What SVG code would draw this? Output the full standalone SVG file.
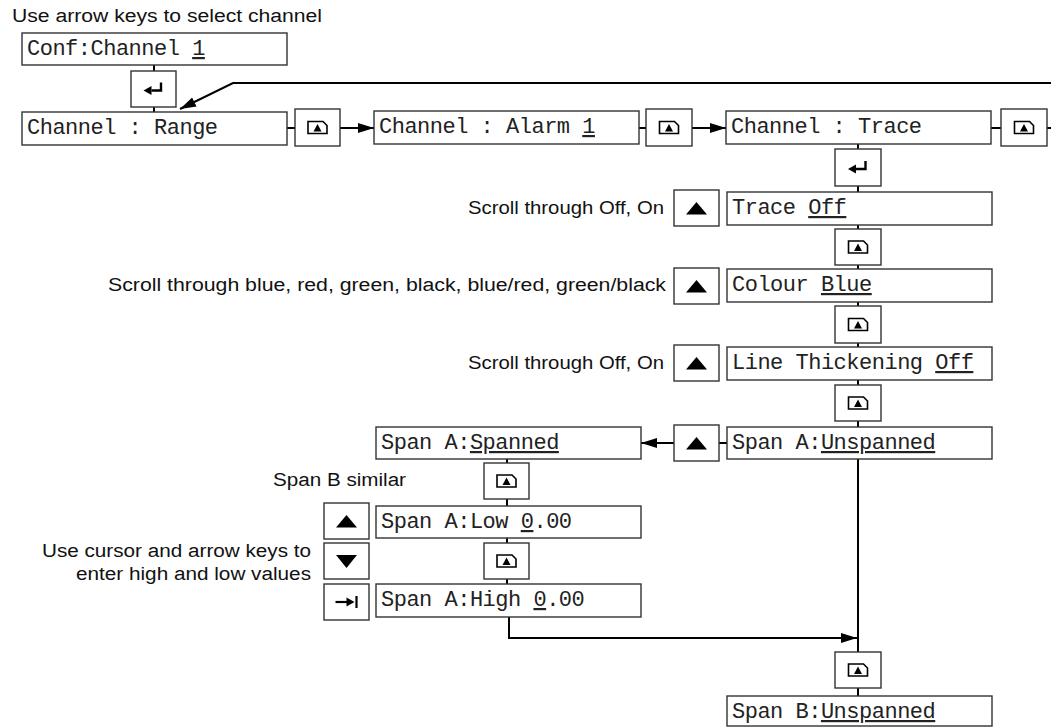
<svg xmlns="http://www.w3.org/2000/svg" xmlns:xlink="http://www.w3.org/1999/xlink" width="1051" height="727" viewBox="0 0 1051 727">
<style>
.box{fill:#fff;stroke:#333;stroke-width:1.4}
.key{fill:#fff;stroke:#333;stroke-width:1.4}
.mono{font-family:"Liberation Mono","Courier New",monospace;font-size:22px;letter-spacing:-0.5px;fill:#222}
.sans{font-family:"Liberation Sans",Arial,sans-serif;font-size:18px;fill:#111}
.u{text-decoration:underline}
.con{fill:none;stroke:#000;stroke-width:2}
</style>
<defs>
<marker id="ah" markerUnits="userSpaceOnUse" markerWidth="18" markerHeight="12" refX="16" refY="6" orient="auto">
<path d="M0,1 L16,6 L0,11 z" fill="#000"/>
</marker>
<g id="pg">
<path d="M-9.5,-6 H5.5 L9.5,-2 V6 H-9.5 Z" fill="#fff" stroke="#000" stroke-width="1.6"/>
<path d="M-4,4 L4,4 L0,-3.5 Z" fill="#000"/>
</g>
<g id="ent">
<path d="M-2,1.5 H7.5 V-6.5" fill="none" stroke="#000" stroke-width="2.4"/>
<path d="M-10,1.5 L-2,-3 L-2,6 Z" fill="#000"/>
</g>
<path id="up" d="M0,-6 L10.5,6.5 L-10.5,6.5 Z" fill="#000"/>
<path id="dn" d="M0,7 L10.5,-6 L-10.5,-6 Z" fill="#000"/>
<g id="tab">
<path d="M-11,0 H2" stroke="#000" stroke-width="2.2"/>
<path d="M8,0 L0,-4.5 L0,4.5 Z" fill="#000"/>
<path d="M10,-6 V6" stroke="#000" stroke-width="2.2"/>
</g>
</defs>

<g id="connectors">
<path class="con" d="M154,65 V71 M154,107 V112"/>
<path class="con" d="M287,128 H295"/>
<path class="con" d="M340,128 H374" marker-end="url(#ah)"/>
<path class="con" d="M639,128 H646"/>
<path class="con" d="M692,128 H726" marker-end="url(#ah)"/>
<path class="con" d="M991,128 H1001"/>
<path class="con" d="M1047,128 H1051"/>
<path class="con" d="M1051,83 H233 L180,109" marker-end="url(#ah)"/>
<path class="con" d="M858,144 V149 M858,186 V192 M858,225 V229 M858,265 V269 M858,302 V306 M858,343 V347 M858,380 V385 M858,421 V427"/>
<path class="con" d="M858,459 V652 M858,688 V696"/>
<path class="con" d="M719,443 H727"/>
<path class="con" d="M674,443 H641" marker-end="url(#ah)"/>
<path class="con" d="M507,459 V463 M507,499 V506 M507,538 V543 M507,579 V584"/>
<path class="con" d="M509,617 V638 H857" marker-end="url(#ah)"/>
</g>

<text class="sans" x="12" y="22" textLength="310" lengthAdjust="spacingAndGlyphs">Use arrow keys to select channel</text>

<g id="conf"><rect class="box" x="22" y="33" width="265" height="32"/><text class="mono" x="27" y="55">Conf:Channel <tspan class="u">1</tspan></text></g>
<g id="enterA"><rect class="key" x="131" y="71" width="45" height="36"/><use xlink:href="#ent" x="153.5" y="89"/></g>
<g id="range"><rect class="box" x="22" y="112" width="265" height="33"/><text class="mono" x="27" y="134">Channel : Range</text></g>
<g id="pgA"><rect class="key" x="295" y="109" width="45" height="37"/><use xlink:href="#pg" x="317.5" y="127.5"/></g>
<g id="alarm"><rect class="box" x="374" y="111" width="265" height="33"/><text class="mono" x="379" y="133">Channel : Alarm <tspan class="u">1</tspan></text></g>
<g id="pgB"><rect class="key" x="646" y="109" width="46" height="37"/><use xlink:href="#pg" x="669" y="127.5"/></g>
<g id="trace"><rect class="box" x="726" y="111" width="265" height="33"/><text class="mono" x="731" y="133">Channel : Trace</text></g>
<g id="pgC"><rect class="key" x="1001" y="109" width="46" height="37"/><use xlink:href="#pg" x="1024" y="127.5"/></g>
<g id="enterB"><rect class="key" x="835" y="149" width="46" height="37"/><use xlink:href="#ent" x="858" y="167.5"/></g>

<g id="traceOff"><rect class="box" x="727" y="192" width="265" height="33"/><text class="mono" x="732" y="214">Trace <tspan class="u">Off</tspan></text></g>
<g id="upA"><rect class="key" x="674" y="190" width="45" height="36"/><use xlink:href="#up" x="696.5" y="208"/></g>
<text class="sans" x="664" y="214" text-anchor="end" textLength="196" lengthAdjust="spacingAndGlyphs">Scroll through Off, On</text>
<g id="pgD"><rect class="key" x="835" y="229" width="46" height="36"/><use xlink:href="#pg" x="858" y="247"/></g>

<g id="colour"><rect class="box" x="727" y="269" width="265" height="33"/><text class="mono" x="732" y="291">Colour <tspan class="u">Blue</tspan></text></g>
<g id="upB"><rect class="key" x="674" y="268" width="45" height="36"/><use xlink:href="#up" x="696.5" y="286"/></g>
<text class="sans" x="666" y="291" text-anchor="end" textLength="558" lengthAdjust="spacingAndGlyphs">Scroll through blue, red, green, black, blue/red, green/black</text>
<g id="pgE"><rect class="key" x="835" y="306" width="46" height="37"/><use xlink:href="#pg" x="858" y="324.5"/></g>

<g id="lineTh"><rect class="box" x="727" y="347" width="265" height="33"/><text class="mono" x="732" y="369">Line Thickening <tspan class="u">Off</tspan></text></g>
<g id="upC"><rect class="key" x="674" y="345" width="45" height="36"/><use xlink:href="#up" x="696.5" y="363"/></g>
<text class="sans" x="664" y="369" text-anchor="end" textLength="196" lengthAdjust="spacingAndGlyphs">Scroll through Off, On</text>
<g id="pgF"><rect class="key" x="835" y="385" width="46" height="36"/><use xlink:href="#pg" x="858" y="403"/></g>

<g id="spanAU"><rect class="box" x="727" y="427" width="265" height="32"/><text class="mono" x="732" y="449">Span A:<tspan class="u">Unspanned</tspan></text></g>
<g id="upD"><rect class="key" x="674" y="425" width="45" height="36"/><use xlink:href="#up" x="696.5" y="443"/></g>
<g id="spanAS"><rect class="box" x="376" y="427" width="265" height="32"/><text class="mono" x="381" y="449">Span A:<tspan class="u">Spanned</tspan></text></g>
<g id="pgG"><rect class="key" x="484" y="463" width="45" height="36"/><use xlink:href="#pg" x="506.5" y="481"/></g>
<text class="sans" x="273" y="486" textLength="133" lengthAdjust="spacingAndGlyphs">Span B similar</text>

<g id="low"><rect class="box" x="376" y="506" width="265" height="32"/><text class="mono" x="381" y="528">Span A:Low <tspan class="u">0</tspan>.00</text></g>
<g id="upE"><rect class="key" x="324" y="503" width="45" height="36"/><use xlink:href="#up" x="346.5" y="521"/></g>
<g id="pgH"><rect class="key" x="484" y="543" width="45" height="36"/><use xlink:href="#pg" x="506.5" y="561"/></g>
<g id="downE"><rect class="key" x="324" y="543" width="45" height="36"/><use xlink:href="#dn" x="346.5" y="561"/></g>
<text class="sans" x="311" y="557" text-anchor="end" textLength="269" lengthAdjust="spacingAndGlyphs">Use cursor and arrow keys to</text>
<text class="sans" x="311" y="580" text-anchor="end" textLength="235" lengthAdjust="spacingAndGlyphs">enter high and low values</text>

<g id="high"><rect class="box" x="376" y="584" width="265" height="33"/><text class="mono" x="381" y="606">Span A:High <tspan class="u">0</tspan>.00</text></g>
<g id="tabE"><rect class="key" x="324" y="584" width="45" height="36"/><use xlink:href="#tab" x="346.5" y="602"/></g>

<g id="pgI"><rect class="key" x="835" y="652" width="46" height="36"/><use xlink:href="#pg" x="858" y="670"/></g>
<g id="spanB"><rect class="box" x="727" y="696" width="265" height="30"/><text class="mono" x="732" y="718">Span B:<tspan class="u">Unspanned</tspan></text></g>
</svg>
